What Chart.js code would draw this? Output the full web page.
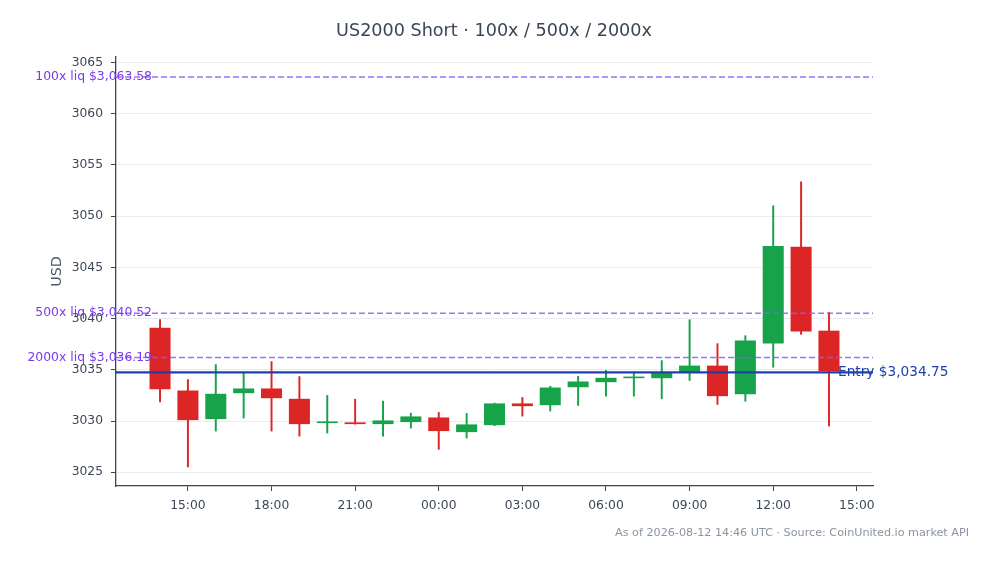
<!DOCTYPE html>
<html>
<head>
<meta charset="utf-8">
<script src="https://cdn.jsdelivr.net/npm/chart.js@4"></script>
<style>
  html, body { margin: 0; padding: 0; background: #fff; }
  #wrap { width: 993px; height: 564px; position: relative; }
</style>
</head>
<body>
<div id="wrap"><canvas id="chart"></canvas></div>
<script>
// --- DATA ---
const times = ['14:00', '15:00', '16:00', '17:00', '18:00', '19:00', '20:00', '21:00', '22:00', '23:00',
    '00:00', '01:00', '02:00', '03:00', '04:00', '05:00', '06:00', '07:00', '08:00', '09:00',
    '10:00', '11:00', '12:00', '13:00', '14:00'];
const open = [3039.10, 3032.98, 3030.19, 3032.72, 3033.18, 3032.17, 3029.80, 3029.87, 3029.70, 3029.90,
    3030.35, 3028.92, 3029.60, 3031.72, 3031.55, 3033.30, 3033.79, 3034.18, 3034.18, 3034.70,
    3035.41, 3032.62, 3037.58, 3047.00, 3038.82];
const high = [3039.90, 3034.05, 3035.51, 3034.70, 3035.80, 3034.34, 3032.50, 3032.13, 3031.94, 3030.77,
    3030.84, 3030.74, 3031.75, 3032.30, 3033.40, 3034.37, 3034.96, 3034.76, 3035.90, 3039.89,
    3037.55, 3038.33, 3051.01, 3053.35, 3040.60];
const low = [3031.86, 3025.52, 3029.02, 3030.29, 3029.02, 3028.53, 3028.83, 3029.70, 3028.53, 3029.31,
    3027.24, 3028.34, 3029.55, 3030.48, 3030.97, 3031.52, 3032.43, 3032.43, 3032.17, 3033.95,
    3031.62, 3031.94, 3035.25, 3038.46, 3029.51];
const close = [3033.10, 3030.09, 3032.66, 3033.18, 3032.23, 3029.70, 3029.96, 3029.70, 3030.06, 3030.45,
    3029.02, 3029.67, 3031.72, 3031.45, 3033.27, 3033.86, 3034.22, 3034.34, 3034.70, 3035.41,
    3032.43, 3037.85, 3047.09, 3038.75, 3034.86];
const tickLabels = ['15:00', '18:00', '21:00', '00:00', '03:00', '06:00', '09:00', '12:00', '15:00'];
const leverages = [100, 500, 2000];
const liqPrices = [3063.58, 3040.52, 3036.19];
const entryPrice = 3034.75;

const GREEN = '#16a34a';
const RED = '#dc2626';
const AXIS = '#3b4656';
const FONT = "'DejaVu Sans', sans-serif";

// hours elapsed since the first candle, wrapping past midnight
function hourOffsets(labels) {
    const start = parseInt(times[0], 10);
    let prev = -1, day = 0;
    return labels.map((t) => {
        let h = (parseInt(t, 10) - start + 24) % 24 + day;
        if (h < prev) { day += 24; h += 24; }
        prev = h;
        return h;
    });
}
const xs = hourOffsets(times);
const tickPos = hourOffsets(tickLabels);

const money = (v) => '$' + v.toLocaleString('en-US', { minimumFractionDigits: 2, maximumFractionDigits: 2 });
const colors = open.map((o, i) => (close[i] >= o ? GREEN : RED));

const overlay = {
    id: 'overlay',
    afterDatasetsDraw(chart) {
        const { ctx, chartArea: a } = chart;
        const y = chart.scales.y;
        ctx.save();
        // liquidation levels
        liqPrices.forEach((p, i) => {
            const py = y.getPixelForValue(p);
            ctx.strokeStyle = 'rgba(139, 92, 246, 0.85)';
            ctx.lineWidth = 1.5;
            ctx.setLineDash([6, 3]);
            ctx.beginPath();
            ctx.moveTo(a.left, py);
            ctx.lineTo(a.right, py);
            ctx.stroke();
            ctx.setLineDash([]);
            ctx.fillStyle = '#7c3aed';
            ctx.font = '12.4px ' + FONT;
            ctx.textAlign = 'right';
            ctx.textBaseline = 'middle';
            ctx.fillText(`${leverages[i]}x liq ${money(p)}`, a.left + 36, py);
        });
        // entry
        const ey = y.getPixelForValue(entryPrice);
        ctx.strokeStyle = '#1e40af';
        ctx.lineWidth = 2.2;
        ctx.beginPath();
        ctx.moveTo(a.left, ey);
        ctx.lineTo(a.right, ey);
        ctx.stroke();
        ctx.fillStyle = '#1e40af';
        ctx.font = '13.7px ' + FONT;
        ctx.textAlign = 'left';
        ctx.textBaseline = 'middle';
        ctx.fillText(`Entry ${money(entryPrice)}`, a.right - 35, ey);
        ctx.restore();
    },
    afterDraw(chart) {
        const { ctx, chartArea: a } = chart;
        ctx.save();
        ctx.textBaseline = 'middle';
        ctx.textAlign = 'center';
        ctx.fillStyle = '#3a4656';
        ctx.font = '17.6px ' + FONT;
        ctx.fillText('US2000 Short · 100x / 500x / 2000x', 494, 31);

        ctx.fillStyle = '#8a94a0';
        ctx.font = '11.2px ' + FONT;
        ctx.textAlign = 'right';
        ctx.fillText('As of 2026-08-12 14:46 UTC · Source: CoinUnited.io market API', 969, 533);

        ctx.translate(57, (a.top + a.bottom) / 2);
        ctx.rotate(-Math.PI / 2);
        ctx.textAlign = 'center';
        ctx.fillStyle = '#4a5568';
        ctx.font = '14.3px ' + FONT;
        ctx.fillText('USD', 0, 0);
        ctx.restore();
    }
};

new Chart(document.getElementById('chart'), {
    type: 'bar',
    data: {
        datasets: [
            {
                label: 'body',
                data: xs.map((x, i) => ({ x, y: [open[i], close[i]] })),
                backgroundColor: colors,
                borderWidth: 0,
                grouped: false,
                categoryPercentage: 1,
                barPercentage: 0.755,
            },
            {
                label: 'wick',
                data: xs.map((x, i) => ({ x, y: [low[i], high[i]] })),
                backgroundColor: colors,
                borderWidth: 0,
                grouped: false,
                categoryPercentage: 1,
                barPercentage: 1,
                maxBarThickness: 1.3,
            },
        ],
    },
    options: {
        responsive: true,
        maintainAspectRatio: false,
        animation: false,
        layout: { padding: { left: 0, right: 120, top: 57, bottom: 0 } },
        plugins: { legend: { display: false }, tooltip: { enabled: false }, title: { display: false } },
        scales: {
            x: {
                type: 'linear',
                offset: false,
                min: -1.58,
                max: 25.58,
                afterBuildTicks: (scale) => {
                    scale.ticks = tickPos.map((v) => ({ value: v }));
                },
                afterFit: (scale) => { scale.height = 78; },
                ticks: {
                    autoSkip: false,
                    maxRotation: 0,
                    padding: 7,
                    color: AXIS,
                    font: { family: FONT, size: 12.3 },
                    callback: (v, i) => tickLabels[i],
                },
                grid: { display: true, offset: false, drawOnChartArea: false, drawTicks: true, tickLength: 5, color: AXIS },
                border: { display: true, color: AXIS, width: 1.3 },
            },
            y: {
                min: 3023.66,
                max: 3065.53,
                afterFit: (scale) => { scale.width = 116; },
                ticks: {
                    stepSize: 5,
                    includeBounds: false,
                    padding: 8,
                    color: AXIS,
                    font: { family: FONT, size: 12.3 },
                    callback: (v) => String(v),
                },
                grid: { color: '#e9ecef', tickColor: AXIS, tickLength: 5, lineWidth: 1 },
                border: { display: true, color: AXIS, width: 1.3 },
            },
        },
    },
    plugins: [overlay],
});
</script>
</body>
</html>
